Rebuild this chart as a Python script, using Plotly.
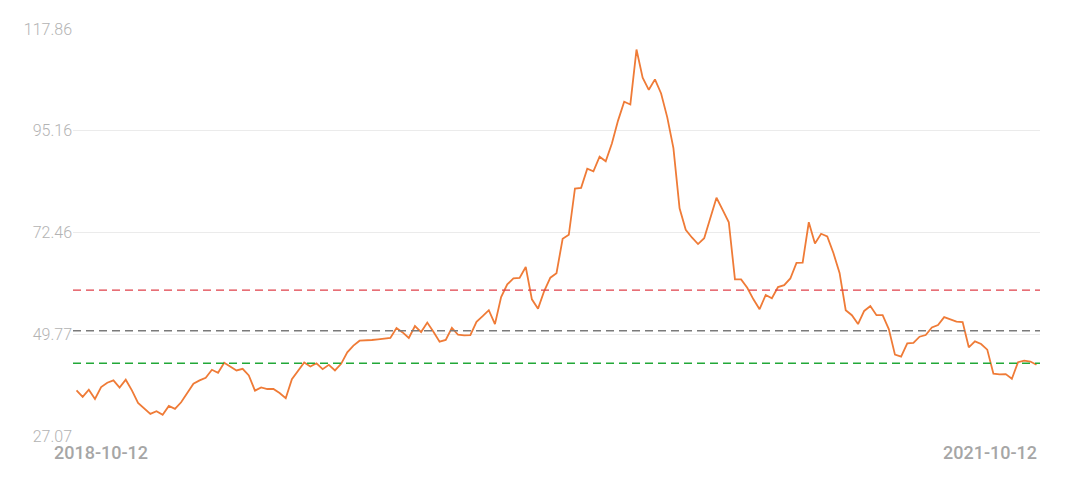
import pandas as pd
import plotly.graph_objects as go

# Weekly values (2018-10-12 .. 2021-10-08)
values = [
    37.26, 35.78, 37.41, 35.33, 37.99, 38.96, 39.47, 37.86, 39.63, 37.26,
    34.45, 33.21, 32.01, 32.61, 31.79, 33.78, 33.12, 34.60, 36.75, 38.74,
    39.47, 40.07, 41.84, 41.18, 43.39, 42.57, 41.69, 42.06, 40.58, 37.19,
    37.92, 37.55, 37.55, 36.66, 35.49, 39.76, 41.53, 43.46, 42.57, 43.30,
    41.98, 42.95, 41.69, 43.17, 45.74, 47.22, 48.33, 48.33, 48.49, 48.62,
    48.70, 48.93, 51.14, 50.17, 48.93, 51.59, 50.26, 52.38, 50.32, 48.11,
    48.49, 51.21, 49.66, 49.50, 49.57, 52.54, 53.80, 55.13, 52.03, 58.07,
    60.89, 62.21, 62.35, 64.78, 57.56, 55.48, 59.40, 62.39,
    63.39, 71.07, 71.96, 82.28, 82.43, 86.70, 86.13, 89.36, 88.34, 92.33,
    97.42, 101.63, 101.03, 113.28, 107.01, 104.29, 106.63, 103.47, 98.15, 91.29,
    77.85, 73.06, 71.36, 69.88, 71.20, 75.79, 80.22, 77.49, 74.75, 61.99,
    61.99, 60.13, 57.56, 55.35, 58.52, 57.79, 60.29, 60.73, 62.21, 65.67,
    65.76, 74.75, 70.03, 72.18, 71.58, 67.88, 63.45, 55.13, 54.02, 52.03,
    54.97, 56.08, 54.02, 54.02, 50.92, 45.23, 44.79, 47.73, 47.82, 49.22,
    49.59, 51.28, 51.81, 53.58, 53.14, 52.60, 52.47, 46.85, 48.18, 47.60,
    46.34, 40.96, 40.80, 40.87, 39.85, 43.53, 43.90, 43.68, 42.95,
]
dates = pd.date_range("2018-10-12", periods=len(values), freq="7D")

# Reference levels (dashed lines)
level_values = [59.62, 50.54, 43.30]
level_colors = ["#E0404A", "#7A7A7A", "#22A838"]

# Axis ticks
y_ticks = [27.07, 49.77, 72.46, 95.16, 117.86]
y_tick_labels = ["27.07", "49.77", "72.46", "95.16", "117.86"]
x_labels = ["2018-10-12", "2021-10-12"]

fig = go.Figure()
fig.add_trace(go.Scatter(
    x=dates, y=values, mode="lines",
    line=dict(color="#EF7B37", width=1.8),
    hoverinfo="x+y", showlegend=False,
))

for v, c in zip(level_values, level_colors):
    fig.add_shape(type="line", xref="paper", x0=0, x1=1, yref="y", y0=v, y1=v,
                  line=dict(color=c, width=1.4, dash="8px,5px"), layer="above")

label_font = dict(family="Roboto", size=18, color="#A6A6A6", weight=500)
fig.add_annotation(text=x_labels[0], xref="paper", yref="paper", x=-0.0217, y=0,
                   xanchor="left", yanchor="middle", yshift=-16, showarrow=False,
                   font=label_font)
fig.add_annotation(text=x_labels[1], xref="paper", yref="paper", x=1, y=0,
                   xanchor="right", yanchor="middle", yshift=-16, xshift=-1,
                   showarrow=False, font=label_font)

fig.update_layout(
    width=1080, height=490,
    margin=dict(l=65, r=48, t=18, b=62),
    paper_bgcolor="white", plot_bgcolor="white",
    xaxis=dict(
        type="date", range=["2018-10-08", "2021-10-12"],
        showgrid=False, zeroline=False, showline=False, showticklabels=False,
        fixedrange=True,
    ),
    yaxis=dict(
        range=[27.07, 117.86], tickvals=y_ticks, ticktext=y_tick_labels,
        showgrid=True, gridcolor="#EBEBEB", gridwidth=1,
        zeroline=False, showline=False, ticks="", ticklabelstandoff=0,
        tickfont=dict(family="Roboto", size=16, color="#B3B3B3", weight=300),
        fixedrange=True,
    ),
)

fig.write_html("out.html")
